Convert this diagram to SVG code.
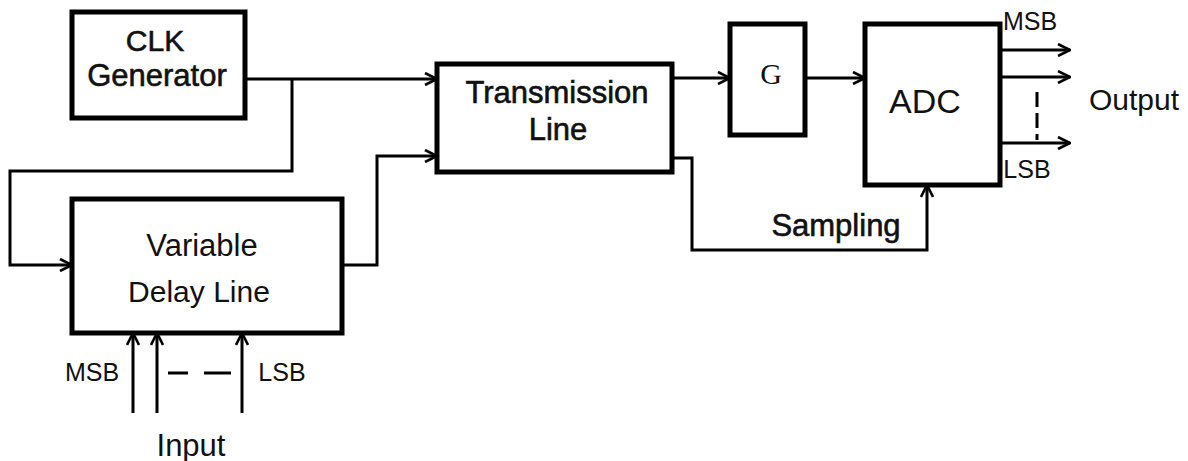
<svg xmlns="http://www.w3.org/2000/svg" width="1188" height="461" viewBox="0 0 1188 461">
<defs>
<marker id="arr" viewBox="0 0 14 14" refX="13" refY="7" markerWidth="14" markerHeight="14" markerUnits="userSpaceOnUse" orient="auto">
<path d="M1,1 L13,7 L1,13" fill="none" stroke="#000" stroke-width="2.6"/>
</marker>
</defs>
<style>
.box{fill:#fff;stroke:#000;stroke-width:5}
.ln{fill:none;stroke:#000;stroke-width:3}
.t{font-family:"Liberation Sans",Arial,sans-serif;fill:#111;text-anchor:middle}
.hv{stroke:#111;stroke-width:0.6}
</style>
<rect width="1188" height="461" fill="#fff"/>
<g id="connectors">
<path class="ln" d="M245,79 H437" marker-end="url(#arr)"/>
<path class="ln" d="M292,79 V171 H10 V265 H72" marker-end="url(#arr)"/>
<path class="ln" d="M342,265 H377 V156 H437" marker-end="url(#arr)"/>
<path class="ln" d="M672,78 H730" marker-end="url(#arr)"/>
<path class="ln" d="M805,78 H865" marker-end="url(#arr)"/>
<path class="ln" d="M672,158 H692 V250 H927 V185" marker-end="url(#arr)"/>
<path class="ln" d="M1000,50 H1070" marker-end="url(#arr)"/>
<path class="ln" d="M1000,77 H1070" marker-end="url(#arr)"/>
<path class="ln" d="M1000,143 H1070" marker-end="url(#arr)"/>
<path class="ln" d="M1037,92 V140" stroke-dasharray="15,6"/>
<path class="ln" d="M133,413 V333" marker-end="url(#arr)"/>
<path class="ln" d="M157,413 V333" marker-end="url(#arr)"/>
<path class="ln" d="M242,413 V333" marker-end="url(#arr)"/>
<path class="ln" d="M168,373 H188 M204,373 H231"/>
</g>
<g id="clk">
<rect class="box" x="72" y="12" width="173" height="106"/>
<text class="t hv" x="155" y="51" font-size="30">CLK</text>
<text class="t hv" x="157" y="86" font-size="31">Generator</text>
</g>
<g id="vdl">
<rect class="box" x="72" y="199" width="270" height="134"/>
<text class="t" x="202" y="256" font-size="31">Variable</text>
<text class="t" x="199" y="302" font-size="30">Delay Line</text>
</g>
<g id="tl">
<rect class="box" x="437" y="64" width="235" height="108"/>
<text class="t hv" x="557" y="103" font-size="31">Transmission</text>
<text class="t hv" x="558" y="140" font-size="31">Line</text>
</g>
<g id="g">
<rect class="box" x="730" y="24" width="75" height="111"/>
<text x="771" y="84" font-size="30" text-anchor="middle" font-family="'Liberation Serif','Times New Roman',serif" fill="#111">G</text>
</g>
<g id="adc">
<rect class="box" x="865" y="24" width="135" height="161"/>
<text class="t" x="925" y="113" font-size="34">ADC</text>
</g>
<g id="labels">
<text class="t" x="1030" y="30" font-size="25">MSB</text>
<text class="t" x="1027" y="178" font-size="25">LSB</text>
<text class="t" x="1134" y="110" font-size="30">Output</text>
<text class="t hv" x="836" y="236" font-size="31">Sampling</text>
<text class="t" x="92" y="381" font-size="25">MSB</text>
<text class="t" x="282" y="381" font-size="25">LSB</text>
<text class="t" x="191" y="456" font-size="31">Input</text>
</g>
</svg>
